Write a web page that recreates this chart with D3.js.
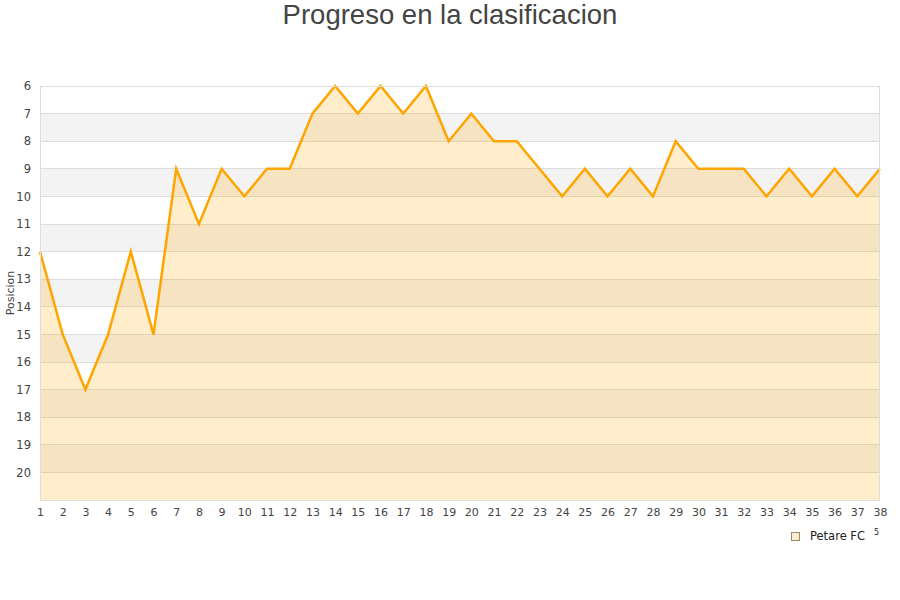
<!DOCTYPE html>
<html><head><meta charset="utf-8">
<script src="https://cdn.jsdelivr.net/npm/d3@7/dist/d3.min.js"></script>
<style>body{margin:0;background:#fff}svg{display:block}</style>
</head><body>
<svg id="c" width="900" height="600"></svg>
<script>
const title = "Progreso en la clasificacion";
const yLabel = "Posicion";
const seriesName = "Petare FC";
const rounds = d3.range(1, 39);
const positions = [12,15,17,15,12,15,9,11,9,10,9,9,7,6,7,6,7,6,8,7,8,8,9,10,9,10,9,10,8,9,9,9,10,9,10,9,10,9];
const yTicks = d3.range(6, 21);

const svg = d3.select("#c");
const L = 40, R = 880, T = 86, B = 500;
const x = d3.scaleLinear().domain([1, 38]).range([L, R]);
const y = d3.scaleLinear().domain([6, 21]).range([T, B]);

// bands
for (let v = 6; v < 21; v++) {
  svg.append("rect").attr("x", L).attr("width", R - L)
    .attr("y", y(v)).attr("height", y(v + 1) - y(v))
    .attr("fill", (v % 2 === 1) ? "#f3f3f3" : "#ffffff");
}
// gridlines
svg.append("g").selectAll("line").data(yTicks).join("line")
  .attr("x1", L).attr("x2", R).attr("y1", d => y(d)).attr("y2", d => y(d))
  .attr("stroke", "#dddddd").attr("stroke-width", 1).attr("shape-rendering", "crispEdges");

const data = rounds.map((r, i) => ({r, p: positions[i]}));
svg.append("path").datum(data)
  .attr("d", d3.area().x(d => x(d.r)).y0(B).y1(d => y(d.p)))
  .attr("fill", "#ffa500").attr("fill-opacity", 0.2);
svg.append("path").datum(data)
  .attr("d", d3.line().x(d => x(d.r)).y(d => y(d.p)))
  .attr("fill", "none").attr("stroke", "#ffa500").attr("stroke-width", 2.5).attr("stroke-linejoin", "miter");

// border
svg.append("rect").attr("x", L + 0.5).attr("y", T + 0.5).attr("width", R - L - 1).attr("height", B - T)
  .attr("fill", "none").attr("stroke", "#dddddd").attr("shape-rendering", "crispEdges");

// y axis labels
const ya = svg.append("g").attr("transform", `translate(${L - 9},0)`)
  .call(d3.axisLeft(y).tickValues(yTicks).tickSize(0).tickPadding(0).tickFormat(d3.format("d")));
ya.select(".domain").remove();
ya.selectAll("text").attr("font-family", "DejaVu Sans").attr("font-size", 11.5).attr("fill", "#444");

// x axis labels
const xa = svg.append("g").attr("transform", `translate(0,${B + 8})`)
  .call(d3.axisBottom(x).tickValues(rounds).tickSize(0).tickPadding(0).tickFormat(d3.format("d")));
xa.select(".domain").remove();
xa.selectAll("text").attr("font-family", "DejaVu Sans").attr("font-size", 11).attr("fill", "#444");

// title
svg.append("text").attr("x", 450).attr("y", 24).attr("text-anchor", "middle")
  .attr("font-family", "Liberation Sans, Arial").attr("font-size", 27.5).attr("fill", "#444").text(title);

// y label
svg.append("text").attr("transform", "translate(14,293) rotate(-90)").attr("text-anchor", "middle")
  .attr("font-family", "DejaVu Sans").attr("font-size", 11).attr("fill", "#444").text(yLabel);

// legend
svg.append("rect").attr("x", 791.5).attr("y", 532.5).attr("width", 8).attr("height", 8)
  .attr("fill", "#ffeccc").attr("stroke", "#9a8a70").attr("stroke-width", 1);
svg.append("text").attr("x", 810).attr("y", 540).attr("font-family", "DejaVu Sans").attr("font-size", 11.5)
  .attr("fill", "#222").text(seriesName);
svg.append("text").attr("x", 874).attr("y", 535).attr("font-family", "DejaVu Sans").attr("font-size", 8)
  .attr("fill", "#222").text("5");
</script>
</body></html>
